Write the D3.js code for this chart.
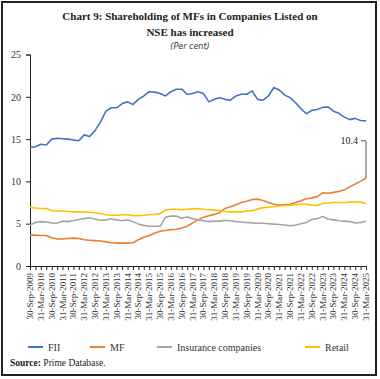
<!DOCTYPE html>
<html>
<head>
<meta charset="utf-8">
<script src="https://cdn.jsdelivr.net/npm/d3@7"></script>
<style>
  body { margin: 0; background: #fff; }
  svg { display: block; }
</style>
</head>
<body>
<script>
// quarterly categories, Sep-2009 .. Mar-2025
var quarters = [
  "30-Sep-2009","31-Dec-2009","31-Mar-2010","30-Jun-2010","30-Sep-2010","31-Dec-2010",
  "31-Mar-2011","30-Jun-2011","30-Sep-2011","31-Dec-2011","31-Mar-2012","30-Jun-2012",
  "30-Sep-2012","31-Dec-2012","31-Mar-2013","30-Jun-2013","30-Sep-2013","31-Dec-2013",
  "31-Mar-2014","30-Jun-2014","30-Sep-2014","31-Dec-2014","31-Mar-2015","30-Jun-2015",
  "30-Sep-2015","31-Dec-2015","31-Mar-2016","30-Jun-2016","30-Sep-2016","31-Dec-2016",
  "31-Mar-2017","30-Jun-2017","30-Sep-2017","31-Dec-2017","31-Mar-2018","30-Jun-2018",
  "30-Sep-2018","31-Dec-2018","31-Mar-2019","30-Jun-2019","30-Sep-2019","31-Dec-2019",
  "31-Mar-2020","30-Jun-2020","30-Sep-2020","31-Dec-2020","31-Mar-2021","30-Jun-2021",
  "30-Sep-2021","31-Dec-2021","31-Mar-2022","30-Jun-2022","30-Sep-2022","31-Dec-2022",
  "31-Mar-2023","30-Jun-2023","30-Sep-2023","31-Dec-2023","31-Mar-2024","30-Jun-2024",
  "30-Sep-2024","31-Dec-2024","31-Mar-2025"
];

var fii = [14.0,14.1,14.4,14.3,15.0,15.1,15.05,15.0,14.9,14.8,15.5,15.3,16.0,17.0,18.3,18.7,
  18.7,19.2,19.4,19.1,19.7,20.1,20.6,20.55,20.4,20.1,20.6,20.9,20.9,20.3,20.4,20.6,
  20.4,19.4,19.7,19.9,19.7,19.6,20.1,20.3,20.3,20.7,19.7,19.6,20.1,21.1,20.8,20.2,
  19.9,19.3,18.6,18.0,18.4,18.5,18.75,18.8,18.3,18.05,17.6,17.3,17.45,17.2,17.15];

var mf = [3.65,3.65,3.6,3.6,3.35,3.2,3.2,3.25,3.3,3.25,3.1,3.05,3.0,2.95,2.85,2.75,
  2.7,2.7,2.7,2.75,3.1,3.4,3.6,3.9,4.1,4.2,4.3,4.35,4.5,4.7,5.1,5.45,
  5.75,5.95,6.1,6.3,6.8,7.0,7.25,7.5,7.65,7.85,7.9,7.75,7.5,7.3,7.2,7.25,
  7.3,7.5,7.7,7.95,8.05,8.2,8.65,8.6,8.7,8.8,9.0,9.35,9.7,10.0,10.4];

var insurance = [4.85,5.15,5.25,5.2,5.1,5.05,5.3,5.25,5.35,5.5,5.6,5.7,5.55,5.4,5.45,5.55,
  5.45,5.35,5.45,5.25,4.95,4.8,4.7,4.7,4.7,5.75,5.9,5.9,5.65,5.8,5.6,5.45,
  5.35,5.25,5.3,5.3,5.4,5.35,5.25,5.2,5.15,5.1,5.05,5.05,5.0,4.95,4.9,4.85,
  4.75,4.85,5.0,5.15,5.5,5.6,5.85,5.55,5.45,5.35,5.3,5.25,5.1,5.15,5.3];

var retail = [6.95,6.85,6.8,6.8,6.55,6.5,6.5,6.45,6.4,6.4,6.4,6.35,6.3,6.2,6.05,6.0,
  6.0,6.05,6.05,5.95,5.95,6.0,6.05,6.1,6.2,6.6,6.7,6.7,6.65,6.7,6.75,6.8,
  6.7,6.65,6.6,6.55,6.45,6.4,6.4,6.4,6.5,6.55,6.75,6.9,6.95,7.0,7.1,7.15,
  7.2,7.25,7.3,7.3,7.2,7.15,7.4,7.45,7.5,7.5,7.5,7.55,7.6,7.55,7.4];

var yTicks = [0, 5, 10, 15, 20, 25];

var seriesNames = ["FII", "MF", "Insurance companies", "Retail"];
var seriesData = [fii, mf, insurance, retail];
var colors = ["#4472C4", "#ED7D31", "#A5A5A5", "#FFC000"];

var serif = "'Liberation Serif', 'DejaVu Serif', serif";

var W = 380, H = 379;
var margin = {top: 54.5, right: 14, bottom: 113, left: 30};

var svg = d3.select("body").append("svg")
  .attr("width", W)
  .attr("height", H);

// outer frame
svg.append("rect")
  .attr("x", 2).attr("y", 2)
  .attr("width", 374).attr("height", 373)
  .attr("fill", "none")
  .attr("stroke", "#222")
  .attr("stroke-width", 2);

// title
svg.append("text")
  .attr("x", 190).attr("y", 20)
  .attr("text-anchor", "middle")
  .style("font-family", serif).style("font-weight", "bold").style("font-size", "11px")
  .attr("fill", "#222")
  .text("Chart 9: Shareholding of MFs in Companies Listed on");
svg.append("text")
  .attr("x", 190).attr("y", 36)
  .attr("text-anchor", "middle")
  .style("font-family", serif).style("font-weight", "bold").style("font-size", "11px")
  .attr("fill", "#222")
  .text("NSE has increased");
svg.append("text")
  .attr("x", 190).attr("y", 49)
  .attr("text-anchor", "middle")
  .style("font-family", "'DejaVu Sans', sans-serif").style("font-style", "italic").style("font-size", "8px")
  .attr("fill", "#333")
  .text("(Per cent)");

// scales
var xScale = d3.scalePoint()
  .domain(quarters)
  .range([margin.left, W - margin.right - 0]);
var yScale = d3.scaleLinear()
  .domain([0, 25])
  .range([H - margin.bottom, margin.top]);

// y axis
var yAxis = d3.axisLeft(yScale).tickValues(yTicks).tickSize(4).tickPadding(5);
var gy = svg.append("g")
  .attr("transform", "translate(" + margin.left + ",0)")
  .call(yAxis);
gy.select(".domain").attr("stroke", "#222");
gy.selectAll(".tick line").attr("stroke", "#222");
gy.selectAll("text")
  .style("font-family", serif).style("font-size", "10px").attr("fill", "#333");

// x axis: tick per quarter, label every second one
var xAxis = d3.axisBottom(xScale).tickSize(4).tickFormat("");
var gx = svg.append("g")
  .attr("transform", "translate(0," + yScale(0) + ")")
  .call(xAxis);
gx.select(".domain").attr("stroke", "#222");
gx.selectAll(".tick line").attr("stroke", "#222");

svg.append("g").selectAll("text")
  .data(quarters.filter(function(d, i) { return i % 2 === 0; }))
  .enter()
  .append("text")
  .attr("transform", function(d) {
    return "translate(" + (xScale(d) + 3) + "," + (yScale(0) + 7) + ") rotate(-90)";
  })
  .attr("text-anchor", "end")
  .style("font-family", serif).style("font-size", "9px")
  .attr("fill", "#333")
  .text(function(d) { return d; });

// lines
var line = d3.line()
  .x(function(d, i) { return xScale(quarters[i]); })
  .y(function(d) { return yScale(d); });

svg.append("g").selectAll("path")
  .data(seriesData)
  .enter()
  .append("path")
  .attr("d", line)
  .attr("fill", "none")
  .attr("stroke", function(d, i) { return colors[i]; })
  .attr("stroke-width", 1.6)
  .attr("stroke-linejoin", "round");

// label for last MF value
var lastQ = quarters[quarters.length - 1];
var lastMf = mf[mf.length - 1];
var lx = xScale(lastQ), ly = yScale(lastMf), labelY = yScale(14.8);
svg.append("path")
  .attr("d", "M" + (lx - 5) + "," + labelY + "H" + lx + "V" + ly)
  .attr("fill", "none")
  .attr("stroke", "#555")
  .attr("stroke-width", 1);
svg.append("text")
  .attr("x", lx - 8).attr("y", labelY + 3)
  .attr("text-anchor", "end")
  .style("font-family", serif).style("font-size", "10px")
  .attr("fill", "#222")
  .text(d3.format(".1f")(lastMf));

// legend
var legendX = [28, 90, 157, 305];
var legend = svg.append("g").selectAll("g")
  .data(seriesNames)
  .enter()
  .append("g")
  .attr("transform", function(d, i) { return "translate(" + legendX[i] + ",347)"; });
legend.append("line")
  .attr("x1", 0).attr("x2", 15)
  .attr("y1", 0).attr("y2", 0)
  .attr("stroke", function(d, i) { return colors[i]; })
  .attr("stroke-width", 2);
legend.append("text")
  .attr("x", 20).attr("y", 3.5)
  .style("font-family", serif).style("font-size", "10px")
  .attr("fill", "#333")
  .text(function(d) { return d; });

// source
var src = svg.append("text")
  .attr("x", 10).attr("y", 366)
  .style("font-family", serif).style("font-size", "9.5px")
  .attr("fill", "#222");
src.append("tspan").style("font-weight", "bold").text("Source:");
src.append("tspan").text(" Prime Database.");
</script>
</body>
</html>
